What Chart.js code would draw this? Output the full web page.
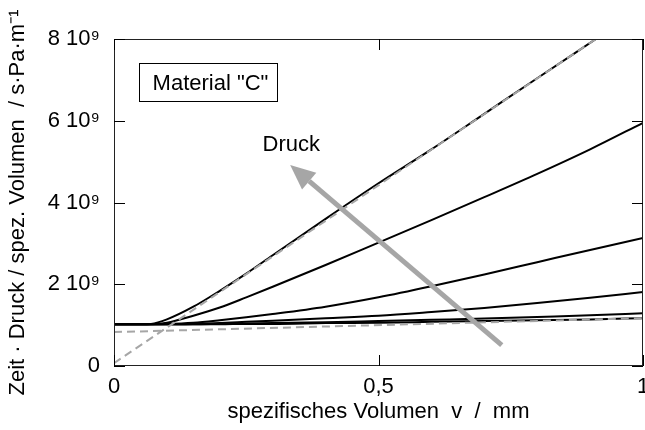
<!DOCTYPE html>
<html lang="de">
<head>
<meta charset="UTF-8">
<title>Zeit · Druck / spez. Volumen</title>
<style>
  html, body { margin: 0; padding: 0; background: #fff; }
  canvas { display: block; }
</style>
</head>
<body>
<canvas id="diagramm" width="645" height="430"></canvas>
<script src="https://cdn.jsdelivr.net/npm/chart.js"></script>
<script>
// spezifisches Volumen v / mm
const volumen = [0, 0.05, 0.1, 0.15, 0.2, 0.25, 0.3, 0.4, 0.5, 0.6, 0.7, 0.8, 0.9, 1.0];
const volumenSteil = [0, 0.05, 0.07, 0.1, 0.15, 0.2, 0.25, 0.3, 0.4, 0.5, 0.6, 0.7, 0.8, 0.911];

// Zeit·Druck/spez. Volumen in 10^9 s·Pa·m^-1, eine Kurve je Druckstufe
const stufe1 = [1.02, 1.02, 1.03, 1.14, 1.45, 1.84, 2.26, 2.71, 3.6, 4.47, 5.3, 6.17, 7.04, 8.0];
const stufe2 = [1.02, 1.02, 1.06, 1.23, 1.43, 1.68, 1.94, 2.47, 3.02, 3.57, 4.13, 4.7, 5.3, 5.95];
const stufe3 = [1.02, 1.02, 1.03, 1.06, 1.12, 1.19, 1.27, 1.45, 1.68, 1.95, 2.24, 2.54, 2.84, 3.13];
const stufe4 = [1.02, 1.02, 1.02, 1.03, 1.05, 1.08, 1.11, 1.17, 1.23, 1.32, 1.42, 1.54, 1.67, 1.81];
const stufe5 = [1.02, 1.02, 1.02, 1.02, 1.03, 1.04, 1.05, 1.07, 1.10, 1.13, 1.16, 1.20, 1.24, 1.29];
const stufe6 = [1.02, 1.02, 1.02, 1.02, 1.02, 1.03, 1.03, 1.05, 1.06, 1.08, 1.10, 1.12, 1.14, 1.17];

// Ausgleichsgeraden (gestrichelt)
const geradeSteilX = [0, 0.911];
const geradeSteilY = [0.07, 8.0];
const geradeFlachX = [0, 1];
const geradeFlachY = [0.83, 1.17];

// Achsenbeschriftung
const xTicks = [0, 0.5, 1];
const xTickText = ['0', '0,5', '1'];
const yTicks = [0, 2, 4, 6, 8];
const yTickText = ['0', '2 10\u2079', '4 10\u2079', '6 10\u2079', '8 10\u2079'];

// Pfeil "Druck" (von -> nach) und Textposition, in Achsenwerten
const pfeilVon = [0.733, 0.51];
const pfeilNach = [0.333, 4.92];
const pfeilText = [0.335, 5.41];
// Kasten "Material "C"": links, oben, rechts, unten
const kasten = [0.047, 7.41, 0.308, 6.48];

const SCHRIFT = '"Liberation Sans", Arial, sans-serif';
const GRAU = '#a6a6a6';

function punkte(xs, ys) {
  return xs.map((x, i) => ({ x: x, y: ys[i] }));
}

function kurve(xs, ys) {
  return {
    data: punkte(xs, ys),
    borderColor: '#000',
    borderWidth: 2,
    pointRadius: 0,
    cubicInterpolationMode: 'monotone',
    order: 2
  };
}

function gerade(xs, ys) {
  return {
    data: punkte(xs, ys),
    borderColor: GRAU,
    borderWidth: 2,
    borderDash: [8, 5],
    pointRadius: 0,
    order: 1
  };
}

// Rahmen mit nach innen zeigenden Teilstrichen
const rahmen = {
  id: 'rahmen',
  afterDraw(chart) {
    const { ctx, chartArea: a, scales: { x, y } } = chart;
    const len = 11;
    ctx.save();
    ctx.strokeStyle = '#222';
    ctx.lineWidth = 1;
    ctx.strokeRect(a.left + 0.5, a.top + 0.5, a.right - a.left - 1, a.bottom - a.top - 1);
    ctx.strokeStyle = '#000';
    ctx.beginPath();
    yTicks.forEach(v => {
      const py = Math.round(y.getPixelForValue(v)) + 0.5;
      ctx.moveTo(a.left, py); ctx.lineTo(a.left + len, py);
      ctx.moveTo(a.right, py); ctx.lineTo(a.right - len, py);
    });
    xTicks.forEach(v => {
      const px = Math.round(x.getPixelForValue(v)) + 0.5;
      ctx.moveTo(px, a.bottom); ctx.lineTo(px, a.bottom - len);
      ctx.moveTo(px, a.top); ctx.lineTo(px, a.top + len);
    });
    ctx.stroke();
    ctx.restore();
  }
};

// Druckpfeil und Materialkasten
const beschriftung = {
  id: 'beschriftung',
  afterDatasetsDraw(chart) {
    const { ctx, scales: { x, y } } = chart;
    const x0 = x.getPixelForValue(pfeilVon[0]), y0 = y.getPixelForValue(pfeilVon[1]);
    const x1 = x.getPixelForValue(pfeilNach[0]), y1 = y.getPixelForValue(pfeilNach[1]);
    const w = Math.atan2(y1 - y0, x1 - x0);
    const spitze = 25, breite = 11;
    const bx = x1 - spitze * Math.cos(w), by = y1 - spitze * Math.sin(w);

    ctx.save();
    ctx.strokeStyle = GRAU;
    ctx.fillStyle = GRAU;
    ctx.lineWidth = 5;
    ctx.lineCap = 'butt';
    ctx.beginPath();
    ctx.moveTo(x0, y0);
    ctx.lineTo(bx, by);
    ctx.stroke();
    ctx.beginPath();
    ctx.moveTo(x1, y1);
    ctx.lineTo(bx + breite * Math.sin(w), by - breite * Math.cos(w));
    ctx.lineTo(bx - breite * Math.sin(w), by + breite * Math.cos(w));
    ctx.closePath();
    ctx.fill();

    ctx.fillStyle = '#000';
    ctx.font = '22px ' + SCHRIFT;
    ctx.textAlign = 'center';
    ctx.textBaseline = 'middle';
    ctx.fillText('Druck', x.getPixelForValue(pfeilText[0]), y.getPixelForValue(pfeilText[1]));

    const kl = Math.round(x.getPixelForValue(kasten[0])) + 0.5;
    const ko = Math.round(y.getPixelForValue(kasten[1])) + 0.5;
    const kr = Math.round(x.getPixelForValue(kasten[2])) + 0.5;
    const ku = Math.round(y.getPixelForValue(kasten[3])) + 0.5;
    ctx.fillStyle = '#fff';
    ctx.fillRect(kl, ko, kr - kl, ku - ko);
    ctx.strokeStyle = '#000';
    ctx.lineWidth = 1;
    ctx.strokeRect(kl, ko, kr - kl, ku - ko);
    ctx.fillStyle = '#000';
    ctx.fillText('Material "C"', (kl + kr) / 2 + 2, (ko + ku) / 2 + 1);
    ctx.restore();
  }
};

new Chart(document.getElementById('diagramm'), {
  type: 'scatter',
  data: {
    datasets: [
      kurve(volumenSteil, stufe1),
      kurve(volumen, stufe2),
      kurve(volumen, stufe3),
      kurve(volumen, stufe4),
      kurve(volumen, stufe5),
      kurve(volumen, stufe6),
      gerade(geradeSteilX, geradeSteilY),
      gerade(geradeFlachX, geradeFlachY)
    ]
  },
  options: {
    responsive: false,
    animation: false,
    events: [],
    showLine: true,
    layout: { padding: { top: 39, right: 2, left: 0, bottom: 0 } },
    plugins: { legend: { display: false }, tooltip: { enabled: false } },
    scales: {
      x: {
        type: 'linear',
        min: 0,
        max: 1,
        // feste Höhe, die Randbeschriftung "1" darf abgeschnitten werden
        afterFit: s => { s.height = 64; s.paddingLeft = 0; s.paddingRight = 0; },
        afterBuildTicks: s => { s.ticks = xTicks.map(v => ({ value: v })); },
        grid: { display: false, drawTicks: false },
        border: { display: false },
        ticks: {
          padding: 8,
          maxRotation: 0,
          color: '#000',
          font: { family: SCHRIFT, size: 22 },
          callback: v => xTickText[xTicks.indexOf(v)]
        },
        title: {
          display: true,
          text: 'spezifisches Volumen  v  /  mm',
          color: '#000',
          font: { family: SCHRIFT, size: 22 },
          padding: { top: 0, bottom: 5 }
        }
      },
      y: {
        min: 0,
        max: 8,
        afterFit: s => { s.width = 114; s.paddingTop = 0; s.paddingBottom = 0; },
        afterBuildTicks: s => { s.ticks = yTicks.map(v => ({ value: v })); },
        grid: { display: false, drawTicks: false },
        border: { display: false },
        ticks: {
          padding: 14,
          color: '#000',
          font: { family: SCHRIFT, size: 22 },
          callback: v => yTickText[yTicks.indexOf(v)]
        },
        title: {
          display: true,
          text: 'Zeit \u00b7 Druck / spez. Volumen  / s\u00b7Pa\u00b7m\u207b\u00b9',
          color: '#000',
          font: { family: SCHRIFT, size: 22 },
          padding: { top: 5, bottom: 0 }
        }
      }
    }
  },
  plugins: [rahmen, beschriftung]
});
</script>
</body>
</html>
